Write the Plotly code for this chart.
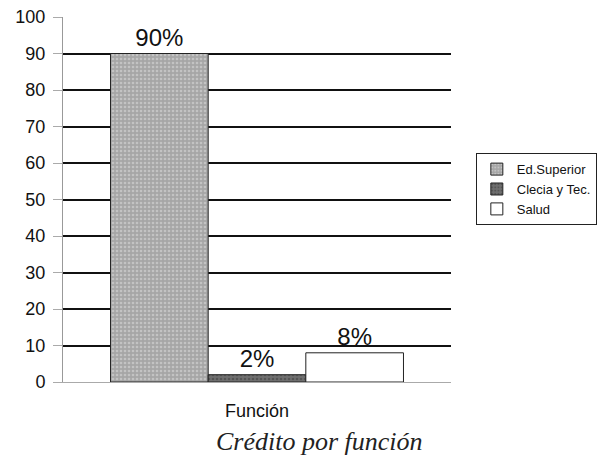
import plotly.graph_objects as go

categories = ["Función"]
series_names = ["Ed.Superior", "Clecia y Tec.", "Salud"]
series_values = [[90], [2], [8]]
value_labels = ["90%", "2%", "8%"]
y_ticks = [0, 10, 20, 30, 40, 50, 60, 70, 80, 90, 100]

fills = ["#a6a6a6", "#6f6f6f", "#ffffff"]
pattern_fg = ["#e0e0e0", "#3c3c3c", "#ffffff"]
pattern_shape = [".", ".", ""]

fig = go.Figure()
for name, vals, lab, fc, pf, ps in zip(series_names, series_values, value_labels,
                                       fills, pattern_fg, pattern_shape):
    fig.add_trace(go.Bar(
        x=categories, y=vals, name=name,
        text=[lab], textposition="outside", cliponaxis=False,
        textfont=dict(family="Liberation Sans, Arial", size=24, color="#111"),
        marker=dict(color=fc, line=dict(color="#222", width=1),
                    pattern=dict(shape=ps, fgcolor=pf, bgcolor=fc, size=4, solidity=0.35)),
    ))

fig.update_layout(
    width=597, height=462,
    margin=dict(l=63, r=146, t=17, b=80, autoexpand=False),
    paper_bgcolor="white", plot_bgcolor="white",
    barmode="group", bargap=0.245, bargroupgap=0,
    font=dict(family="Liberation Sans, Arial", size=15, color="#111"),
    showlegend=True,
    legend=dict(x=1.064, y=0.627, xanchor="left", yanchor="top",
                bordercolor="#222", borderwidth=1, bgcolor="white",
                font=dict(size=13), tracegroupgap=0, itemwidth=30),
    xaxis=dict(title=dict(text="Función", font=dict(size=18), standoff=22),
               automargin=False,
               showline=True, linecolor="#aaa", linewidth=1,
               showticklabels=False, ticks=""),
    yaxis=dict(range=[0, 100], tickvals=y_ticks, showgrid=True, gridcolor="#111",
               automargin=False,
               gridwidth=1.5, zeroline=False, showline=True, linecolor="#999",
               ticks="outside", ticklen=9, tickcolor="#aaa",
               ticklabelstandoff=4,
               tickfont=dict(size=18)),
    annotations=[dict(text="<i>Crédito por función</i>", xref="paper", yref="paper",
                      x=0.662, y=-0.164, xanchor="center", yanchor="middle",
                      showarrow=False,
                      font=dict(family="Liberation Serif, Times New Roman", size=26, color="#222"))],
)

fig.write_html("out.html", config={"displayModeBar": False},
               post_script="document.body.style.margin='0';")
